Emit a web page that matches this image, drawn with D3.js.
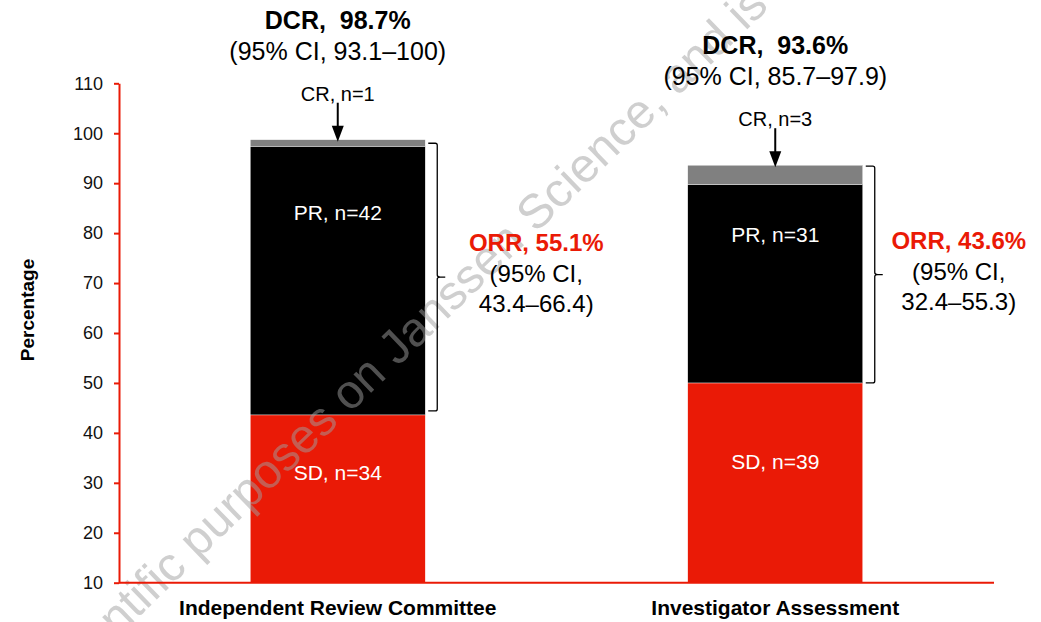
<!DOCTYPE html>
<html>
<head>
<meta charset="utf-8">
<script src="https://cdn.jsdelivr.net/npm/d3@7"></script>
<style>
  html, body { margin: 0; padding: 0; background: #fff; }
  svg { display: block; font-family: 'Liberation Sans', Arial, sans-serif; }
</style>
</head>
<body>
<svg id="chart" width="1041" height="622"></svg>
<script>
// data
const categories = ['Independent Review Committee', 'Investigator Assessment']
const sdPct = [43.6, 50.0]
const prPct = [53.8, 39.7]
const crPct = [1.3, 3.9]
const sdN = [34, 39]
const prN = [42, 31]
const crN = [1, 3]
const dcrValue = ['98.7%', '93.6%']
const dcrCI = ['93.1–100', '85.7–97.9']
const orrValue = ['55.1%', '43.6%']
const orrCI = ['43.4–66.4', '32.4–55.3']
const orrRange = [[98.0, 44.4], [93.4, 50.0]] // bracket ends, in %
const yTicks = [10, 20, 30, 40, 50, 60, 70, 80, 90, 100, 110]

// label anchors inside the bars (in %), hand placed like the slide
const prLabelAt = [84.0, 79.6]
const sdLabelAt = [32.0, 34.2]
const orrDx = [99, 84]

const RED = '#ea1a06'
const GRAY = '#808080'

const svg = d3.select('#chart')

const x = d3.scaleBand()
  .domain(categories)
  .range([119, 994])
  .paddingInner(0.6)
  .paddingOuter(0.3)

const y = d3.scaleLinear()
  .domain([10, 110])
  .range([582.7, 83.3])

// stack the three segments, bars start at the axis floor (10)
const rows = categories.map((c, i) => ({ cat: c, SD: sdPct[i], PR: prPct[i], CR: crPct[i] }))
const stack = d3.stack().keys(['SD', 'PR', 'CR'])(rows)
const colors = { SD: RED, PR: '#000', CR: GRAY }

svg.append('g')
  .selectAll('g')
  .data(stack)
  .join('g')
  .attr('fill', (d) => colors[d.key])
  .selectAll('rect')
  .data((d) => d)
  .join('rect')
  .attr('x', (d) => x(d.data.cat))
  .attr('width', x.bandwidth())
  .attr('y', (d) => y(d[1]))
  .attr('height', (d) => y(Math.max(d[0], 10)) - y(d[1]))
  .attr('stroke', '#fff')
  .attr('stroke-width', 0.4)

// faint watermark across the slide, over the bars
svg.append('text')
  .attr('transform', 'translate(56,697) rotate(-44)')
  .attr('font-size', 48)
  .attr('fill', '#a0a0a0')
  .attr('opacity', 0.5)
  .text('scientific purposes on Janssen Science, and is not')

// axes
const yAxis = svg.append('g')
  .attr('transform', `translate(${x.range()[0]},0)`)
  .call(d3.axisLeft(y).tickValues(yTicks).tickSize(5).tickSizeOuter(0).tickPadding(11))
yAxis.select('.domain').attr('stroke', RED).attr('stroke-width', 2)
yAxis.selectAll('.tick line').attr('stroke', RED).attr('stroke-width', 2)
yAxis.selectAll('.tick text')
  .attr('font-family', "'Liberation Sans', Arial, sans-serif")
  .attr('font-size', 18)
  .attr('fill', '#111')

svg.append('line')
  .attr('x1', x.range()[0]).attr('x2', x.range()[1])
  .attr('y1', y(10)).attr('y2', y(10))
  .attr('stroke', RED).attr('stroke-width', 2)

svg.append('text')
  .attr('transform', 'translate(34,310) rotate(-90)')
  .attr('text-anchor', 'middle')
  .attr('font-weight', 'bold')
  .attr('font-size', 19)
  .text('Percentage')

svg.append('g')
  .selectAll('text')
  .data(categories)
  .join('text')
  .attr('x', (d) => x(d) + x.bandwidth() / 2)
  .attr('y', 615)
  .attr('text-anchor', 'middle')
  .attr('font-weight', 'bold')
  .attr('font-size', 21)
  .text((d) => d)

// labels inside bars
categories.forEach((c, i) => {
  const cx = x(c) + x.bandwidth() / 2
  svg.append('text')
    .attr('x', cx).attr('y', y(prLabelAt[i]) + 7)
    .attr('text-anchor', 'middle').attr('font-size', 21).attr('fill', '#fff')
    .text(`PR, n=${prN[i]}`)
  svg.append('text')
    .attr('x', cx).attr('y', y(sdLabelAt[i]) + 7)
    .attr('text-anchor', 'middle').attr('font-size', 21).attr('fill', '#fff')
    .text(`SD, n=${sdN[i]}`)

  // CR arrow + DCR annotation above the bar
  const top = y(sdPct[i] + prPct[i] + crPct[i])
  svg.append('line')
    .attr('x1', cx).attr('x2', cx)
    .attr('y1', top - 37).attr('y2', top - 12)
    .attr('stroke', '#000').attr('stroke-width', 2)
  svg.append('path')
    .attr('d', `M${cx - 6},${top - 14}L${cx + 6},${top - 14}L${cx},${top + 2}Z`)
    .attr('fill', '#000')
  svg.append('text')
    .attr('x', cx).attr('y', top - 39)
    .attr('text-anchor', 'middle').attr('font-size', 20)
    .text(`CR, n=${crN[i]}`)
  svg.append('text')
    .attr('x', cx).attr('y', top - 80)
    .attr('text-anchor', 'middle').attr('font-size', 25)
    .text(`(95% CI, ${dcrCI[i]})`)
  svg.append('text')
    .attr('x', cx).attr('y', top - 111)
    .attr('text-anchor', 'middle').attr('font-size', 25).attr('font-weight', 'bold')
    .style('white-space', 'pre')
    .text(`DCR,  ${dcrValue[i]}`)

  // ORR bracket
  const bx = x(c) + x.bandwidth() + 3
  const y0 = y(orrRange[i][0])
  const y1 = y(orrRange[i][1])
  const ym = (y0 + y1) / 2
  const p = d3.path()
  p.moveTo(bx, y0)
  p.lineTo(bx + 7, y0)
  p.quadraticCurveTo(bx + 9, y0, bx + 9, y0 + 2)
  p.lineTo(bx + 9, ym - 2)
  p.quadraticCurveTo(bx + 9, ym, bx + 12, ym)
  p.lineTo(bx + 17, ym)
  p.moveTo(bx + 12, ym)
  p.quadraticCurveTo(bx + 9, ym, bx + 9, ym + 2)
  p.lineTo(bx + 9, y1 - 2)
  p.quadraticCurveTo(bx + 9, y1, bx + 7, y1)
  p.lineTo(bx, y1)
  svg.append('path')
    .attr('d', p.toString())
    .attr('fill', 'none').attr('stroke', '#000').attr('stroke-width', 1.3)

  const tx = bx + 9 + orrDx[i]
  svg.append('text')
    .attr('x', tx).attr('y', ym - 26)
    .attr('text-anchor', 'middle').attr('font-size', 24).attr('font-weight', 'bold').attr('fill', RED)
    .text(`ORR, ${orrValue[i]}`)
  svg.append('text')
    .attr('x', tx).attr('y', ym + 5)
    .attr('text-anchor', 'middle').attr('font-size', 24)
    .text('(95% CI,')
  svg.append('text')
    .attr('x', tx).attr('y', ym + 35)
    .attr('text-anchor', 'middle').attr('font-size', 24)
    .text(`${orrCI[i]})`)
})
</script>
</body>
</html>
